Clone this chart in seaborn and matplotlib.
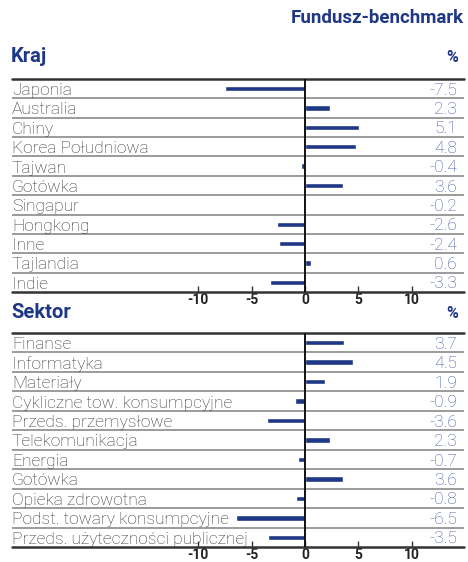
import matplotlib
matplotlib.use("Agg")
import matplotlib.pyplot as plt
import matplotlib.transforms as mtransforms
import seaborn as sns

# -------------------------------
# Data
# -------------------------------
kraj_labels = ["Japonia", "Australia", "Chiny", "Korea Południowa", "Tajwan", "Gotówka",
               "Singapur", "Hongkong", "Inne", "Tajlandia", "Indie"]
kraj_values = [-7.5, 2.3, 5.1, 4.8, -0.4, 3.6, -0.2, -2.6, -2.4, 0.6, -3.3]

sektor_labels = ["Finanse", "Informatyka", "Materiały", "Cykliczne tow. konsumpcyjne",
                 "Przeds. przemysłowe", "Telekomunikacja", "Energia", "Gotówka",
                 "Opieka zdrowotna", "Podst. towary konsumpcyjne", "Przeds. użyteczności publicznej"]
sektor_values = [3.7, 4.5, 1.9, -0.9, -3.6, 2.3, -0.7, 3.6, -0.8, -6.5, -3.5]

tick_values = [-10, -5, 0, 5, 10]

NAVY = "#1f3885"
VALUE_BLUE = "#4458a3"
TEXT_GREY = "#333333"

sns.set_theme(style="white")
plt.rcParams["font.family"] = ["Roboto", "DejaVu Sans"]

W, H = 468, 562
fig = plt.figure(figsize=(W / 100, H / 100), dpi=100)

X0, X1 = 12, 464          # pixel extent of the table
ZERO_PX, UNIT_PX = 305, 10.667
xlim = ((X0 - ZERO_PX) / UNIT_PX, (X1 - ZERO_PX) / UNIT_PX)


def panel(top_px, bottom_px, labels, values):
    ax = fig.add_axes([X0 / W, 1 - bottom_px / H, (X1 - X0) / W, (bottom_px - top_px) / H])
    sns.barplot(x=values, y=labels, orient="h", color=NAVY, width=0.28,
                saturation=1, ax=ax)
    ax.set_xlim(*xlim)
    ax.set_ylim(len(labels) - 0.5, -0.5)
    for s in ax.spines.values():
        s.set_visible(False)
    ax.set_yticks([])
    ax.set_ylabel("")
    ax.set_xticks(tick_values)
    ax.set_xticklabels([str(t) for t in tick_values], fontweight="bold", fontsize=10,
                       color="#222222")
    ax.tick_params(axis="x", direction="in", length=4, width=1, color="#333333", pad=1,
                   bottom=True)
    # row separators
    for i in range(1, len(labels)):
        ax.axhline(i - 0.5, color="#8a8a8a", lw=1.2, zorder=0)
    ax.axhline(-0.5, color="#333333", lw=1.8, zorder=3, clip_on=False)
    ax.axhline(len(labels) - 0.5, color="#333333", lw=1.8, zorder=3, clip_on=False)
    ax.axvline(0, color="#111111", lw=1.4, zorder=4)
    trans = mtransforms.blended_transform_factory(ax.transAxes, ax.transData)
    for i, (lab, v) in enumerate(zip(labels, values)):
        ax.text(0.0, i + 0.1, lab, transform=trans, ha="left", va="center",
                fontsize=12.5, fontweight="light", color=TEXT_GREY)
        ax.text(14.25, i + 0.08, f"{v:.1f}", ha="right", va="center",
                fontsize=12.5, fontweight="light", color=VALUE_BLUE)
    return ax


panel(79, 292, kraj_labels, kraj_values)
panel(333, 547, sektor_labels, sektor_values)

fig.text(464 / W, 1 - 18 / H, "Fundusz-benchmark", ha="right", va="center",
         fontsize=13.5, fontweight="bold", color=NAVY)
fig.text(11 / W, 1 - 57 / H, "Kraj", ha="left", va="center",
         fontsize=14.5, fontweight="bold", color=NAVY)
fig.text(452 / W, 1 - 57 / H, "%", ha="center", va="center",
         fontsize=11.5, fontweight="bold", color=NAVY)
fig.text(11 / W, 1 - 313 / H, "Sektor", ha="left", va="center",
         fontsize=14.5, fontweight="bold", color=NAVY)
fig.text(452 / W, 1 - 313 / H, "%", ha="center", va="center",
         fontsize=11.5, fontweight="bold", color=NAVY)

fig.savefig("out.png", dpi=100)
